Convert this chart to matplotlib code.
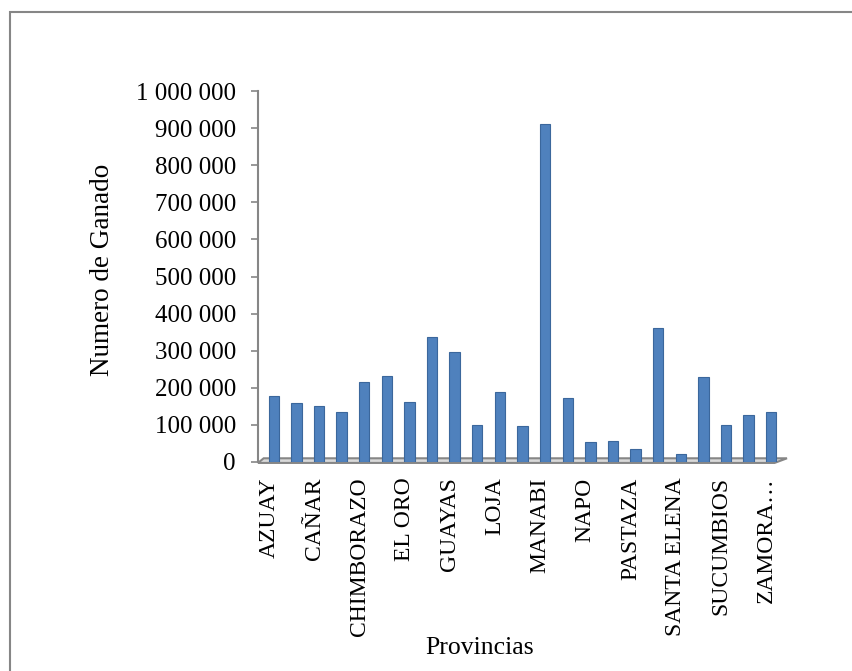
import matplotlib
matplotlib.use("Agg")
import matplotlib.pyplot as plt
import matplotlib.transforms as mtransforms
from matplotlib.patches import Rectangle, Polygon

provincias = ["AZUAY", "BOLIVAR", "CAÑAR", "CARCHI", "CHIMBORAZO", "COTOPAXI",
              "EL ORO", "ESMERALDAS", "GUAYAS", "IMBABURA", "LOJA", "LOS RIOS",
              "MANABI", "MORONA SANTIAGO", "NAPO", "ORELLANA", "PASTAZA",
              "PICHINCHA", "SANTA ELENA", "SANTO DOMINGO", "SUCUMBIOS",
              "TUNGURAHUA", "ZAMORA…"]
ganado = [178000, 158000, 151000, 136000, 216000, 232000, 163000, 338000,
          296000, 100000, 188000, 97000, 911000, 172000, 53000, 57000, 36000,
          360000, 21000, 228000, 99000, 127000, 134000]
yticks = [0, 100000, 200000, 300000, 400000, 500000, 600000, 700000, 800000,
          900000, 1000000]

plt.rcParams['font.family'] = ['Liberation Serif', 'DejaVu Serif']
gray = '#868686'

fig = plt.figure(figsize=(8.53, 6.71), dpi=100)
ax = fig.add_axes([258/853, 1 - 462/671, 529/853, 371/671])

x = list(range(len(provincias)))

# 3d-ish floor under the bars
floor = Polygon([(-0.7, -2500), (22.15, -2500), (22.7, 10000), (-0.45, 10000)],
                closed=True, facecolor='#d9d9d9', edgecolor=gray, lw=1.5,
                clip_on=False, zorder=1)
ax.add_patch(floor)

ax.bar(x, ganado, width=0.46, color='#4F81BD', edgecolor='#3B679C',
       linewidth=0.8, zorder=3)

ax.set_xlim(-0.7, 22.7)
ax.set_ylim(0, 1000000)
ax.set_yticks(yticks)
ax.set_yticklabels(['{:,}'.format(v).replace(',', ' ') for v in yticks])
ax.set_xticks(x[::2])
ax.set_xticklabels(provincias[::2], rotation=90)

for s in ['top', 'right', 'bottom']:
    ax.spines[s].set_visible(False)
ax.spines['left'].set_color(gray)
ax.spines['left'].set_linewidth(1.5)
ax.tick_params(axis='y', colors=gray, labelcolor='black', length=5, width=1.2,
               labelsize=18, pad=11)
ax.tick_params(axis='x', length=0, labelsize=17, pad=11)

# labels sit a bit left of the bars, like the excel 3d chart
shift = mtransforms.ScaledTranslation(-5/100, 0, fig.dpi_scale_trans)
for lab in ax.get_xticklabels():
    lab.set_transform(lab.get_transform() + shift)

fig.text(103/853, 1 - 270/671, 'Numero de Ganado', rotation=90,
         ha='center', va='center', fontsize=19.5)
fig.text(480/853, 1 - 648/671, 'Provincias', ha='center', va='center',
         fontsize=18.5)

# outer frame of the chart
fig.patches.append(Rectangle((10/853, -0.1), 1.2, 1.1 - 12/671,
                             transform=fig.transFigure, fill=False,
                             edgecolor=gray, lw=1.5))

fig.savefig('out.png', dpi=100)
